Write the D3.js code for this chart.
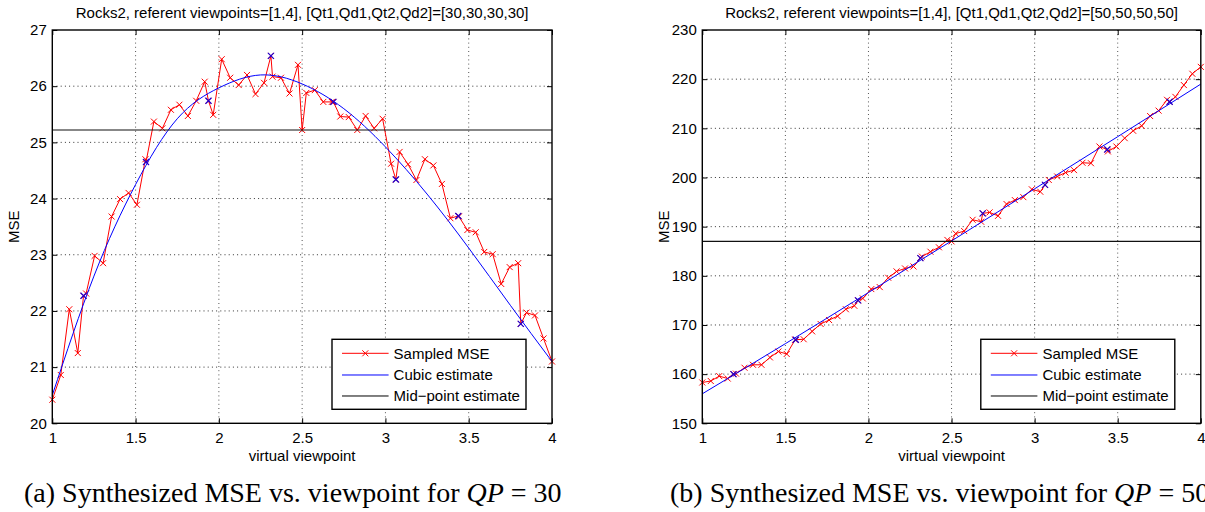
<!DOCTYPE html>
<html>
<head>
<meta charset="utf-8">
<script src="https://cdn.jsdelivr.net/npm/d3@7"></script>
<style>
  body { margin: 0; background: #fff; }
  svg { display: block; }
</style>
</head>
<body>
<svg></svg>
<script>
const width = 1205;
const height = 512;

// 60 virtual viewpoints sampled between the two reference views
const viewX = [
  1.000, 1.051, 1.102, 1.153, 1.203, 1.254, 1.305, 1.356, 1.407, 1.458,
  1.508, 1.559, 1.610, 1.661, 1.712, 1.763, 1.814, 1.864, 1.915, 1.966,
  2.017, 2.068, 2.119, 2.169, 2.220, 2.271, 2.322, 2.373, 2.424, 2.475,
  2.525, 2.576, 2.627, 2.678, 2.729, 2.780, 2.831, 2.881, 2.932, 2.983,
  3.034, 3.085, 3.136, 3.186, 3.237, 3.288, 3.339, 3.390, 3.441, 3.492,
  3.542, 3.593, 3.644, 3.695, 3.746, 3.797, 3.847, 3.898, 3.949, 4.000
];

// sampled MSE, QP = 30
const mse30 = [
  20.42, 20.86, 22.03, 21.25, 22.31, 22.98, 22.85, 23.68, 23.99, 24.10,
  23.89, 24.70, 25.37, 25.25, 25.58, 25.67, 25.47, 25.74, 26.08, 25.49,
  26.48, 26.15, 26.02, 26.20, 25.86, 26.06, 26.17, 26.15, 25.87, 26.38,
  25.88, 25.93, 25.72, 25.72, 25.46, 25.45, 25.22, 25.47, 25.25, 25.42,
  24.62, 24.83, 24.61, 24.33, 24.70, 24.59, 24.26, 23.65, 23.68, 23.44,
  23.40, 23.05, 23.01, 22.48, 22.78, 22.85, 21.97, 21.92, 21.51, 21.10
];

// sampled MSE, QP = 50
const mse50 = [
  158.3, 158.6, 159.6, 159.1, 160.1, 161.3, 161.9, 161.9, 163.4, 164.6,
  164.1, 167.0, 167.1, 168.7, 170.2, 171.0, 171.8, 173.2, 173.9, 175.4,
  177.3, 177.7, 179.6, 180.9, 181.5, 181.9, 183.9, 184.9, 185.8, 187.3,
  188.6, 189.1, 191.4, 191.0, 192.9, 192.2, 194.6, 195.4, 196.0, 197.6,
  197.1, 199.5, 200.2, 201.0, 201.5, 203.0, 202.9, 206.3, 205.3, 206.3,
  208.0, 209.5, 210.5, 212.5, 213.6, 215.8, 216.4, 218.8, 221.1, 222.5
];

// viewpoints used for the cubic fit (blue crosses)
const fitX = [1.1875, 1.5625, 1.9375, 2.3125, 2.6875, 3.0625, 3.4375, 3.8125];
const fit30 = [22.27, 24.65, 25.74, 26.54, 25.72, 24.34, 23.69, 21.77];
const fit50 = [160.0, 167.0, 175.0, 183.6, 192.7, 198.5, 205.7, 215.4];

// mid-point sample
const midX = 2.5;
const mid30 = 25.22;
const mid50 = 187.0;

// cubic estimate
const cubicX30 = [1, 1.25, 1.5, 1.75, 2, 2.25, 2.5, 2.75, 3, 3.25, 3.5, 3.75, 4];
const cubic30 = [20.5, 22.62, 24.25, 25.42, 25.97, 26.2, 26.04, 25.6, 24.92, 24.08, 23.12, 22.1, 21.1];
const cubicX50 = [1, 1.5, 2, 2.5, 3, 3.5, 4];
const cubic50 = [156.0, 166.2, 176.6, 187.1, 197.7, 208.3, 219.0];

const xTicks = [1, 1.5, 2, 2.5, 3, 3.5, 4];
const yTicks30 = [20, 21, 22, 23, 24, 25, 26, 27];
const yTicks50 = [150, 160, 170, 180, 190, 200, 210, 220, 230];

const legendLabels = ['Sampled MSE', 'Cubic estimate', 'Mid\u2212point estimate'];

const sans = "'Liberation Sans', Arial, Helvetica, sans-serif";
const serif = "'Liberation Serif', 'Times New Roman', serif";

const svg = d3.select('svg')
              .attr('width', width)
              .attr('height', height)
              .attr('viewBox', `0 0 ${width} ${height}`);

svg.append('rect').attr('width', width).attr('height', height).attr('fill', '#fff');

// little 'x' marker like matlab's
const cross = 'M-3,-3L3,3M-3,3L3,-3';

const drawPanel = p => {
  const x = d3.scaleLinear().domain([1, 4]).range([p.left, p.right]);
  const y = d3.scaleLinear().domain(p.yDomain).range([p.bottom, p.top]);
  const g = svg.append('g');

  // dotted grid
  g.selectAll('.vgrid')
    .data(xTicks.slice(1, -1))
    .enter()
    .append('line')
      .attr('x1', d => x(d)).attr('x2', d => x(d))
      .attr('y1', p.top).attr('y2', p.bottom)
      .attr('stroke', '#555')
      .attr('stroke-width', 1)
      .attr('stroke-dasharray', '1,3.2');
  g.selectAll('.hgrid')
    .data(p.yTicks.slice(1, -1))
    .enter()
    .append('line')
      .attr('x1', p.left).attr('x2', p.right)
      .attr('y1', d => y(d)).attr('y2', d => y(d))
      .attr('stroke', '#333')
      .attr('stroke-width', 1)
      .attr('stroke-dasharray', '1,3.2');

  // axes: ticks pointing inward on all four sides
  const bottomAxis = g.append('g')
    .attr('transform', `translate(0,${p.bottom})`)
    .call(d3.axisBottom(x).tickValues(xTicks).tickSize(-5).tickSizeOuter(0).tickPadding(9.5).tickFormat(d3.format('')));
  const topAxis = g.append('g')
    .attr('transform', `translate(0,${p.top})`)
    .call(d3.axisTop(x).tickValues(xTicks).tickSize(-5).tickSizeOuter(0).tickFormat(''));
  const leftAxis = g.append('g')
    .attr('transform', `translate(${p.left},0)`)
    .call(d3.axisLeft(y).tickValues(p.yTicks).tickSize(-5).tickSizeOuter(0).tickPadding(5.5).tickFormat(d3.format('d')));
  const rightAxis = g.append('g')
    .attr('transform', `translate(${p.right},0)`)
    .call(d3.axisRight(y).tickValues(p.yTicks).tickSize(-5).tickSizeOuter(0).tickFormat(''));

  [bottomAxis, topAxis, leftAxis, rightAxis].forEach(a => {
    a.select('.domain').remove();
    a.selectAll('line').attr('stroke', '#000').attr('stroke-width', 1);
    a.selectAll('text')
      .attr('fill', '#000')
      .style('font-family', sans)
      .style('font-size', '15px');
  });

  // sampled series = regular samples + fit samples + mid-point, in order of viewpoint
  const sampled = viewX.map((v, i) => ({ x: v, y: p.mse[i] }))
    .concat(fitX.map((v, i) => ({ x: v, y: p.fit[i] })))
    .concat([{ x: midX, y: p.mid }])
    .sort((a, b) => a.x - b.x);

  const line = d3.line().x(d => x(d.x)).y(d => y(d.y));

  g.append('path')
    .datum(sampled)
    .attr('d', line)
    .attr('fill', 'none')
    .attr('stroke', '#ff0000')
    .attr('stroke-width', 1);

  g.selectAll('.redx')
    .data(sampled)
    .enter()
    .append('path')
      .attr('d', cross)
      .attr('transform', d => `translate(${x(d.x)},${y(d.y)})`)
      .attr('stroke', '#ff0000')
      .attr('stroke-width', 1)
      .attr('fill', 'none');

  // cubic estimate
  const cubic = p.cubicX.map((v, i) => ({ x: v, y: p.cubic[i] }));
  g.append('path')
    .datum(cubic)
    .attr('d', line.curve(d3.curveNatural))
    .attr('fill', 'none')
    .attr('stroke', '#0000ff')
    .attr('stroke-width', 1);

  // mid-point estimate
  g.append('line')
    .attr('x1', p.left).attr('x2', p.right)
    .attr('y1', y(p.mid)).attr('y2', y(p.mid))
    .attr('stroke', '#111')
    .attr('stroke-width', 1.2);

  g.selectAll('.bluex')
    .data(fitX.map((v, i) => ({ x: v, y: p.fit[i] })))
    .enter()
    .append('path')
      .attr('d', cross)
      .attr('transform', d => `translate(${x(d.x)},${y(d.y)})`)
      .attr('stroke', '#2200cc')
      .attr('stroke-width', 1.2)
      .attr('fill', 'none');

  // box
  g.append('rect')
    .attr('x', p.left).attr('y', p.top)
    .attr('width', p.right - p.left).attr('height', p.bottom - p.top)
    .attr('fill', 'none')
    .attr('stroke', '#000')
    .attr('stroke-width', 1.4);

  // titles and labels
  const cx = (p.left + p.right) / 2;
  g.append('text')
    .attr('x', cx).attr('y', 18.3)
    .attr('text-anchor', 'middle')
    .style('font-family', sans).style('font-size', '15px')
    .text(p.title);
  g.append('text')
    .attr('x', cx).attr('y', 461)
    .attr('text-anchor', 'middle')
    .style('font-family', sans).style('font-size', '15px')
    .text('virtual viewpoint');
  g.append('text')
    .attr('transform', `translate(${p.left - 33},${(p.top + p.bottom) / 2}) rotate(-90)`)
    .attr('text-anchor', 'middle')
    .style('font-family', sans).style('font-size', '15px')
    .text('MSE');

  // legend
  const lx = p.right - 220;
  const ly = 339.3;
  const legend = g.append('g').attr('transform', `translate(${lx},${ly})`);
  legend.append('rect')
    .attr('width', 194).attr('height', 70)
    .attr('fill', '#fff')
    .attr('stroke', '#000')
    .attr('stroke-width', 1.4);
  const rows = [14, 35.7, 56.7];
  const colors = ['#ff0000', '#0000ff', '#000'];
  legendLabels.forEach((label, i) => {
    legend.append('line')
      .attr('x1', 10).attr('x2', 56.6)
      .attr('y1', rows[i]).attr('y2', rows[i])
      .attr('stroke', colors[i])
      .attr('stroke-width', 1);
    legend.append('text')
      .attr('x', 61.6).attr('y', rows[i])
      .attr('dy', '0.36em')
      .style('font-family', sans).style('font-size', '15px')
      .text(label);
  });
  legend.append('path')
    .attr('d', cross)
    .attr('transform', `translate(33.3,${rows[0]})`)
    .attr('stroke', '#ff0000')
    .attr('fill', 'none');

  // caption under the panel
  const cap = svg.append('text')
    .attr('x', p.capX).attr('y', 502)
    .style('font-family', serif).style('font-size', '28px')
    .style('white-space', 'pre');
  cap.append('tspan').text(`(${p.letter}) Synthesized MSE vs. viewpoint for `);
  cap.append('tspan').style('font-style', 'italic').text('QP');
  cap.append('tspan').text(` = ${p.qp}`);
};

drawPanel({
  left: 52.3, right: 552, top: 30, bottom: 423.3,
  yDomain: [20, 27], yTicks: yTicks30,
  mse: mse30, fit: fit30, mid: mid30,
  cubicX: cubicX30, cubic: cubic30,
  title: 'Rocks2, referent viewpoints=[1,4], [Qt1,Qd1,Qt2,Qd2]=[30,30,30,30]',
  letter: 'a', qp: 30, capX: 24
});

drawPanel({
  left: 702.3, right: 1200.8, top: 30, bottom: 423.3,
  yDomain: [150, 230], yTicks: yTicks50,
  mse: mse50, fit: fit50, mid: mid50,
  cubicX: cubicX50, cubic: cubic50,
  title: 'Rocks2, referent viewpoints=[1,4], [Qt1,Qd1,Qt2,Qd2]=[50,50,50,50]',
  letter: 'b', qp: 50, capX: 670
});
</script>
</body>
</html>
